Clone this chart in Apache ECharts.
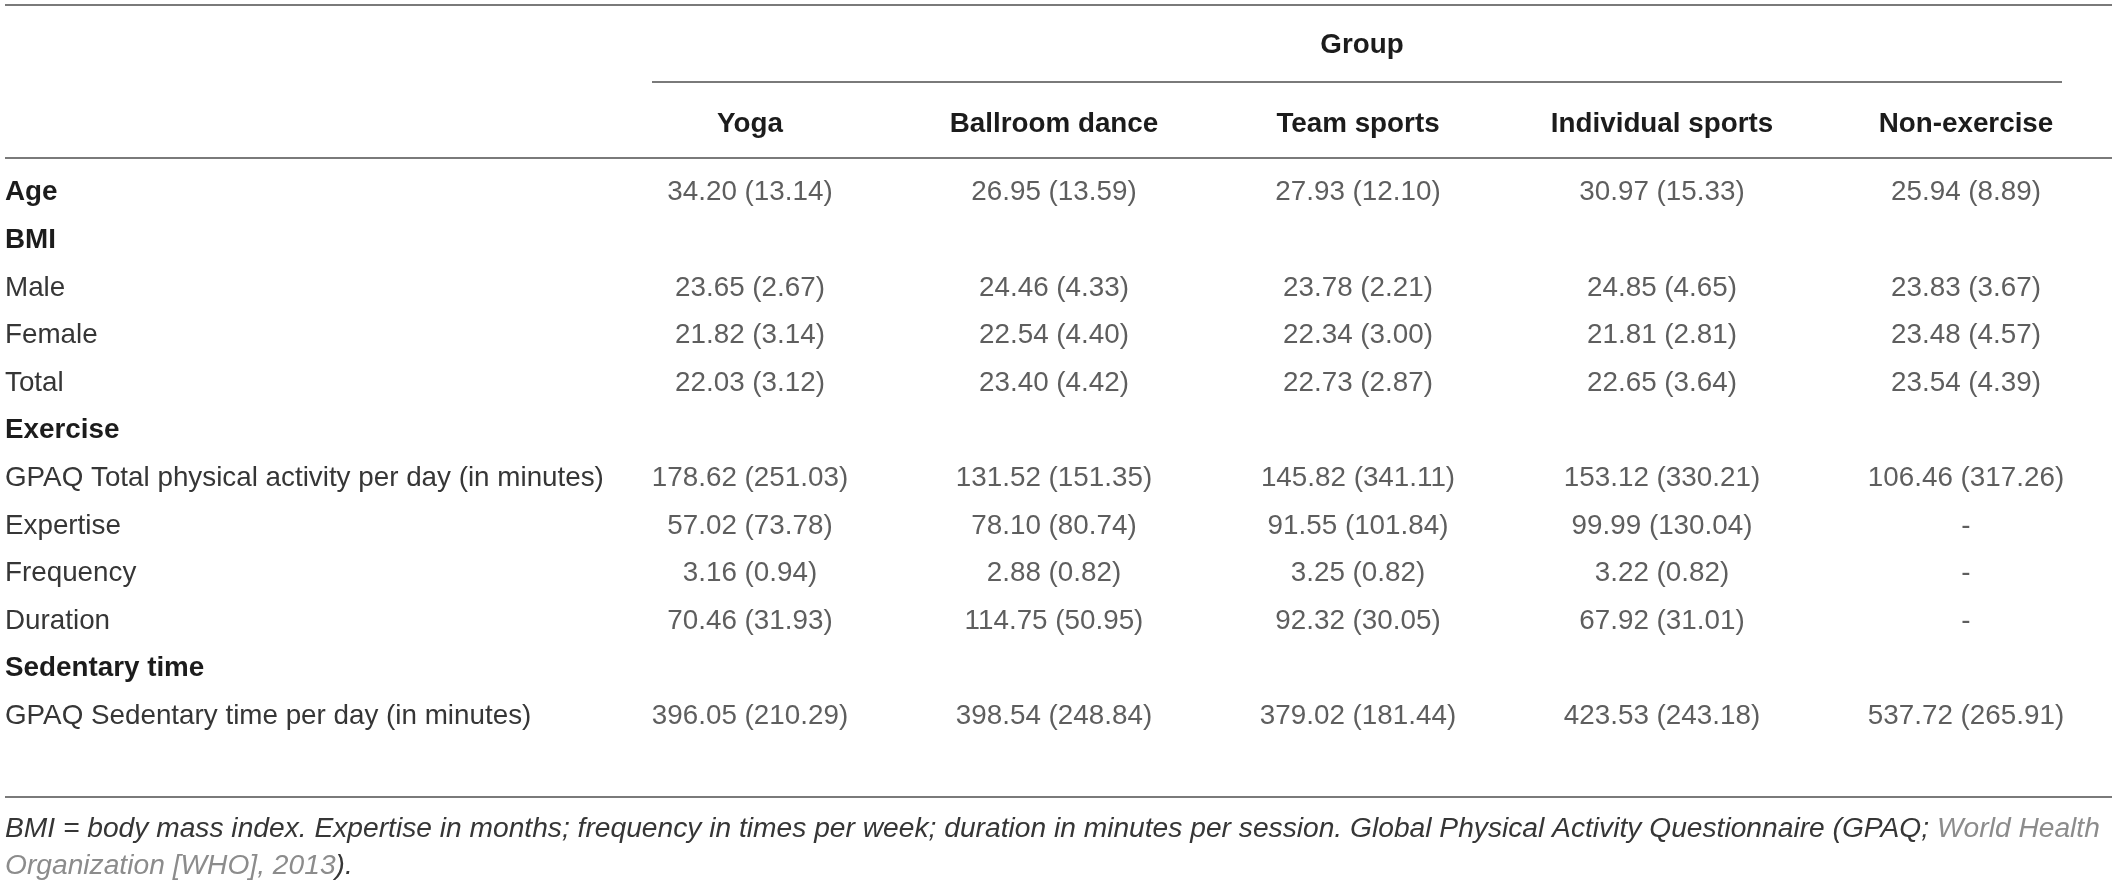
<!DOCTYPE html>
<html>
<head>
<meta charset="utf-8">
<script src="https://cdn.jsdelivr.net/npm/echarts@6/dist/echarts.min.js"></script>
<style>
html,body{margin:0;padding:0;background:#fff;}
#c{width:2118px;height:883px;}
</style>
</head>
<body>
<div id="c"></div>
<script>
// ---- table content ----
const groups = ['Yoga', 'Ballroom dance', 'Team sports', 'Individual sports', 'Non-exercise'];
const rows = ['Age', 'BMI', 'Male', 'Female', 'Total', 'Exercise',
  'GPAQ Total physical activity per day (in minutes)', 'Expertise', 'Frequency', 'Duration',
  'Sedentary time', 'GPAQ Sedentary time per day (in minutes)'];
const sectionRows = ['Age', 'BMI', 'Exercise', 'Sedentary time'];
const dataRows = ['Age', 'Male', 'Female', 'Total',
  'GPAQ Total physical activity per day (in minutes)', 'Expertise', 'Frequency', 'Duration',
  'GPAQ Sedentary time per day (in minutes)'];

const yogaMean = [34.20, 23.65, 21.82, 22.03, 178.62, 57.02, 3.16, 70.46, 396.05];
const yogaSD = [13.14, 2.67, 3.14, 3.12, 251.03, 73.78, 0.94, 31.93, 210.29];
const ballroomMean = [26.95, 24.46, 22.54, 23.40, 131.52, 78.10, 2.88, 114.75, 398.54];
const ballroomSD = [13.59, 4.33, 4.40, 4.42, 151.35, 80.74, 0.82, 50.95, 248.84];
const teamMean = [27.93, 23.78, 22.34, 22.73, 145.82, 91.55, 3.25, 92.32, 379.02];
const teamSD = [12.10, 2.21, 3.00, 2.87, 341.11, 101.84, 0.82, 30.05, 181.44];
const individualMean = [30.97, 24.85, 21.81, 22.65, 153.12, 99.99, 3.22, 67.92, 423.53];
const individualSD = [15.33, 4.65, 2.81, 3.64, 330.21, 130.04, 0.82, 31.01, 243.18];
const nonExerciseMean = [25.94, 23.83, 23.48, 23.54, 106.46, null, null, null, 537.72];
const nonExerciseSD = [8.89, 3.67, 4.57, 4.39, 317.26, null, null, null, 265.91];

const groupTitle = 'Group';
const footnoteMain = 'BMI = body mass index. Expertise in months; frequency in times per week; duration in minutes per session. Global Physical Activity Questionnaire (GPAQ; ';
const footnoteRef1 = 'World Health';
const footnoteRef2 = 'Organization [WHO], 2013';
const footnoteEnd = ').';

// ---- build ----
const groupMeans = [yogaMean, ballroomMean, teamMean, individualMean, nonExerciseMean];
const groupSDs = [yogaSD, ballroomSD, teamSD, individualSD, nonExerciseSD];

const FONT = "'Liberation Sans', Arial, Helvetica, sans-serif";
const FS = 27.8;
const FS_NOTE = 28.2;
const TXT = '#363636';
const BOLD = '#1c1c1c';
const RULE = '#7a7a7a';

function cellText(m, s) {
  if (m === null || m === undefined) return '-';
  return m.toFixed(2) + ' (' + s.toFixed(2) + ')';
}

const series = groups.map(function (g, gi) {
  return {
    type: 'scatter',
    name: g,
    symbol: 'circle',
    symbolSize: 1,
    itemStyle: { color: 'rgba(0,0,0,0)' },
    silent: true,
    label: {
      show: true,
      position: 'inside',
      fontFamily: FONT,
      fontSize: FS,
      fontWeight: 'normal',
      color: TXT,
      formatter: function (p) { return p.data.text; }
    },
    data: dataRows.map(function (r, ri) {
      return { value: [g, r], text: cellText(groupMeans[gi][ri], groupSDs[gi][ri]) };
    })
  };
});

const chart = echarts.init(document.getElementById('c'), null, { renderer: 'canvas' });
chart.setOption({
  backgroundColor: '#ffffff',
  animation: false,
  title: [
    {
      text: groupTitle,
      left: 1357,
      top: 26,
      textAlign: 'center',
      textStyle: { fontFamily: FONT, fontSize: FS, fontWeight: 'bold', color: BOLD }
    },
    {
      text: '{n|' + footnoteMain + '}{g|' + footnoteRef1 + '}\n{g|' + footnoteRef2 + '}{n|' + footnoteEnd + '}',
      left: 0,
      top: 806,
      textStyle: {
        fontWeight: 'normal',
        rich: {
          n: { fontFamily: FONT, fontSize: FS_NOTE, fontStyle: 'italic', fontWeight: 'normal', color: TXT, lineHeight: 37 },
          g: { fontFamily: FONT, fontSize: FS_NOTE, fontStyle: 'italic', fontWeight: 'normal', color: '#8c8c8c', lineHeight: 37 }
        }
      }
    }
  ],
  grid: { left: 598, right: 0, top: 169, bottom: 143, containLabel: false },
  xAxis: {
    type: 'category',
    position: 'top',
    data: groups,
    axisLine: { show: false },
    axisTick: { show: false },
    splitLine: { show: false },
    axisLabel: {
      margin: 31,
      fontFamily: FONT,
      fontSize: FS,
      fontWeight: 'bold',
      color: BOLD,
      interval: 0
    }
  },
  yAxis: {
    type: 'category',
    inverse: true,
    data: rows,
    axisLine: { show: false },
    axisTick: { show: false },
    splitLine: { show: false },
    axisLabel: {
      margin: 593,
      align: 'left',
      interval: 0,
      formatter: function (v) {
        return sectionRows.indexOf(v) >= 0 ? '{b|' + v + '}' : '{r|' + v + '}';
      },
      rich: {
        b: { fontFamily: FONT, fontSize: FS, fontWeight: 'bold', color: BOLD },
        r: { fontFamily: FONT, fontSize: FS, fontWeight: 'normal', color: TXT }
      }
    }
  },
  graphic: [
    { type: 'line', shape: { x1: 5, y1: 5, x2: 2112, y2: 5 }, style: { stroke: RULE, lineWidth: 2 } },
    { type: 'line', shape: { x1: 652, y1: 82, x2: 2062, y2: 82 }, style: { stroke: RULE, lineWidth: 2 } },
    { type: 'line', shape: { x1: 5, y1: 158, x2: 2112, y2: 158 }, style: { stroke: RULE, lineWidth: 2 } },
    { type: 'line', shape: { x1: 5, y1: 797, x2: 2112, y2: 797 }, style: { stroke: RULE, lineWidth: 2 } }
  ],
  series: series
});
</script>
</body>
</html>
